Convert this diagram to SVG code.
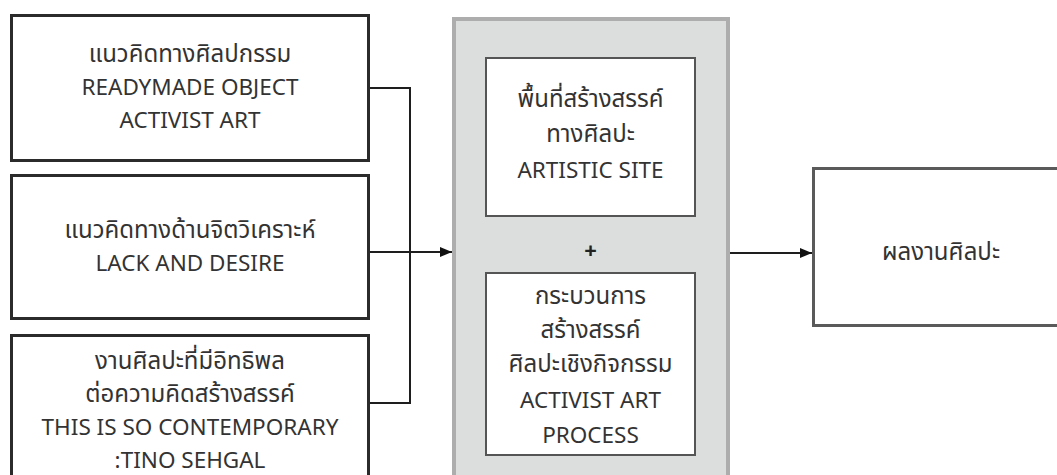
<svg xmlns="http://www.w3.org/2000/svg" width="1057" height="475" viewBox="0 0 1057 475">
<style>
  text { font-family: "Noto Sans", "Noto Sans Thai", "Open Sans", sans-serif; font-size: 22.5px; fill: #333; text-anchor: middle; }
  text.th { font-size: 24px; }
  text.plus { font-size: 22px; font-weight: bold; fill: #222; }
  .src { fill: #fff; stroke: #2b2b2b; stroke-width: 3; }
  .inner { fill: #fff; stroke: #555; stroke-width: 2; }
  .out { fill: #fff; stroke: #5a5a5a; stroke-width: 3; }
  .grp { fill: #dcdede; stroke: #adadad; stroke-width: 4; }
  .conn { fill: none; stroke: #1e1e1e; stroke-width: 2; }
</style>
<defs>
  <marker id="arrow" viewBox="0 0 12 10" refX="12" refY="5" markerWidth="12" markerHeight="10" markerUnits="userSpaceOnUse" orient="auto">
    <path d="M0,0 L12,5 L0,10 Z" fill="#111"/>
  </marker>
</defs>
<rect width="1057" height="475" fill="#fff"/>

<g id="node-concept-art">
  <rect class="src" x="11.5" y="15.5" width="357" height="145"/>
  <text class="th" x="190" y="62">แนวคิดทางศิลปกรรม</text>
  <text x="190" y="95">READYMADE OBJECT</text>
  <text x="190" y="128">ACTIVIST ART</text>
</g>

<g id="node-concept-psych">
  <rect class="src" x="11.5" y="175.5" width="357" height="143"/>
  <text class="th" x="190" y="238">แนวคิดทางด้านจิตวิเคราะห์</text>
  <text x="190" y="271">LACK AND DESIRE</text>
</g>

<g id="node-influence">
  <rect class="src" x="11.5" y="335.5" width="357" height="200"/>
  <text class="th" x="190" y="369">งานศิลปะที่มีอิทธิพล</text>
  <text class="th" x="190" y="402">ต่อความคิดสร้างสรรค์</text>
  <text x="190" y="435">THIS IS SO CONTEMPORARY</text>
  <text x="190" y="468">:TINO SEHGAL</text>
</g>

<g id="node-process-group">
  <rect class="grp" x="454" y="19" width="274" height="480"/>
  <g id="node-artistic-site">
    <rect class="inner" x="486" y="58" width="209" height="158"/>
    <text class="th" x="590.5" y="107">พื้นที่สร้างสรรค์</text>
    <text class="th" x="590.5" y="142">ทางศิลปะ</text>
    <text x="590.5" y="178">ARTISTIC SITE</text>
  </g>
  <text class="plus" x="590.5" y="258">+</text>
  <g id="node-activist-process">
    <rect class="inner" x="486" y="273" width="209" height="182"/>
    <text class="th" x="590.5" y="304">กระบวนการ</text>
    <text class="th" x="590.5" y="338">สร้างสรรค์</text>
    <text class="th" x="590.5" y="372">ศิลปะเชิงกิจกรรม</text>
    <text x="590.5" y="408">ACTIVIST ART</text>
    <text x="590.5" y="443">PROCESS</text>
  </g>
</g>

<g id="node-result">
  <rect class="out" x="813.5" y="168.5" width="260" height="157"/>
  <text class="th" x="941" y="260">ผลงานศิลปะ</text>
</g>

<g id="connectors">
  <path class="conn" d="M370,88 H410 V403 H370"/>
  <path class="conn" d="M370,252 H452" marker-end="url(#arrow)"/>
  <path class="conn" d="M730,253 H812" marker-end="url(#arrow)"/>
</g>
</svg>
